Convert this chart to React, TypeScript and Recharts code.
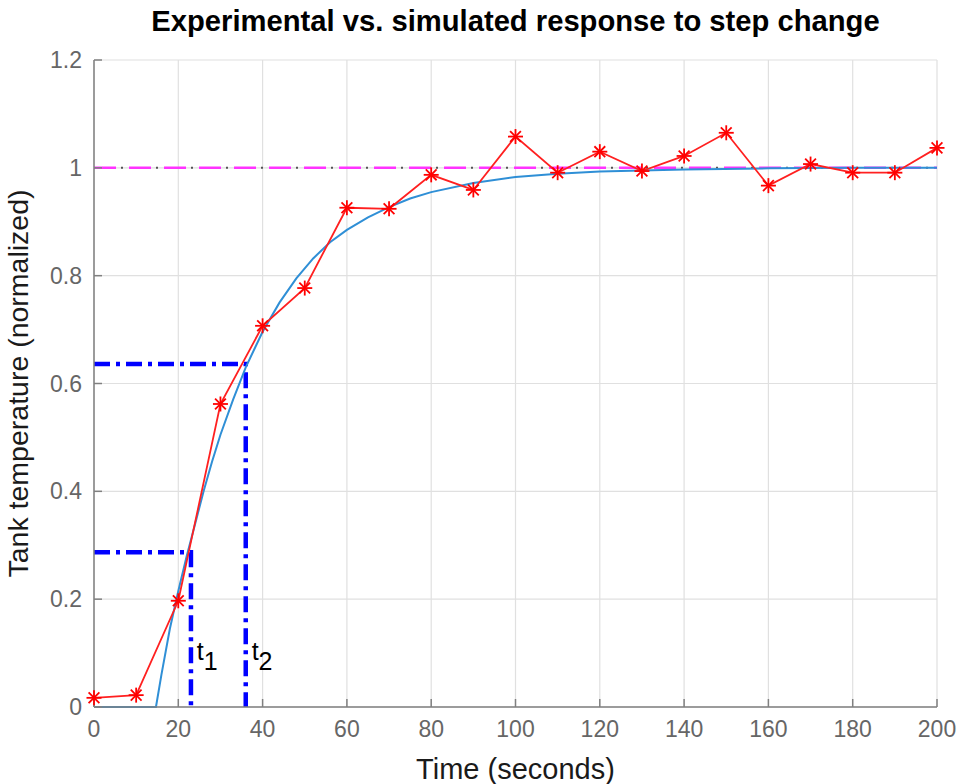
import {
  ComposedChart,
  Line,
  XAxis,
  YAxis,
  CartesianGrid,
  ReferenceLine,
  ReferenceDot,
} from 'recharts';

// experimental samples, every 10 s
const expTime = [0, 10, 20, 30, 40, 50, 60, 70, 80, 90, 100, 110, 120, 130, 140, 150, 160, 170, 180, 190, 200];
const expTemp = [0.017, 0.022, 0.197, 0.562, 0.707, 0.777, 0.926, 0.924, 0.987, 0.959, 1.058, 0.991, 1.03, 0.994, 1.022, 1.065, 0.967, 1.007, 0.991, 0.991, 1.037];

// simulated model response
const simTime = [0, 14.7, 16, 18, 20, 22, 24, 26, 28, 30, 33, 36, 40, 44, 48, 52, 56, 60, 65, 70, 75, 80, 90, 100, 110, 120, 140, 160, 180, 200];
const simTemp = [0, 0, 0.06, 0.145, 0.215, 0.28, 0.34, 0.4, 0.455, 0.505, 0.57, 0.63, 0.696, 0.75, 0.795, 0.832, 0.862, 0.885, 0.908, 0.927, 0.943, 0.955, 0.972, 0.983, 0.989, 0.993, 0.997, 0.999, 1.0, 1.0];

// two-point method markers
const t1 = 23;
const t2 = 36;
const y1 = 0.287;
const y2 = 0.636;

const xTicks = [0, 20, 40, 60, 80, 100, 120, 140, 160, 180, 200];
const yTicks = [0, 0.2, 0.4, 0.6, 0.8, 1, 1.2];

const expData = expTime.map((t, i) => ({ t, v: expTemp[i] }));
const simData = simTime.map((t, i) => ({ t, v: simTemp[i] }));
const t1Data = [{ t: 0, v: y1 }, { t: t1, v: y1 }, { t: t1, v: 0 }];
const t2Data = [{ t: 0, v: y2 }, { t: t2, v: y2 }, { t: t2, v: 0 }];

const font = 'Arial, "Liberation Sans", Helvetica, sans-serif';

function Star(props: any) {
  const { cx, cy } = props;
  if (cx == null || cy == null) return null;
  const r = 7.5;
  const d = r * 0.72;
  return (
    <g stroke="#ff0000" strokeWidth={1.8}>
      <line x1={cx - r} y1={cy} x2={cx + r} y2={cy} />
      <line x1={cx} y1={cy - r} x2={cx} y2={cy + r} />
      <line x1={cx - d} y1={cy - d} x2={cx + d} y2={cy + d} />
      <line x1={cx - d} y1={cy + d} x2={cx + d} y2={cy - d} />
    </g>
  );
}

function SubLabel(name: string, sub: string) {
  return (props: any) => (
    <text x={props.cx} y={props.cy} fontFamily={font} fontSize={25} fill="#000">
      {name}
      <tspan dy={10}>{sub}</tspan>
    </text>
  );
}

export default function App() {
  return (
    <div style={{ position: 'absolute', left: 0, top: 0, width: 962, height: 784, background: '#fff', fontFamily: font }}>
      <div
        style={{
          position: 'absolute',
          left: 94,
          width: 843,
          top: 5,
          textAlign: 'center',
          fontWeight: 'bold',
          fontSize: 29.2,
          color: '#000',
          whiteSpace: 'nowrap',
        }}
      >
        Experimental vs. simulated response to step change
      </div>
      <ComposedChart
        width={962}
        height={784}
        margin={{ top: 60, right: 25, bottom: 47, left: 34 }}
      >
        <CartesianGrid stroke="#e0e0e0" strokeWidth={1.2} />
        <XAxis
          dataKey="t"
          type="number"
          domain={[0, 200]}
          ticks={xTicks}
          allowDuplicatedCategory={false}
          height={30}
          stroke="#808080"
          strokeWidth={1.5}
          tickSize={-8}
          tickMargin={22}
          tick={{ fontSize: 23, fill: '#666', fontFamily: font }}
          label={{ value: 'Time (seconds)', position: 'insideBottom', offset: -42, fontSize: 29, fill: '#1a1a1a', fontFamily: font }}
        />
        <YAxis
          type="number"
          domain={[0, 1.2]}
          ticks={yTicks}
          width={60}
          stroke="#808080"
          strokeWidth={1.5}
          tickSize={-8}
          tickMargin={20}
          tick={{ fontSize: 23, fill: '#666', fontFamily: font }}
          label={{ value: 'Tank temperature (normalized)', angle: -90, position: 'insideLeft', offset: -16, fontSize: 28.5, fill: '#1a1a1a', fontFamily: font, style: { textAnchor: 'middle' } }}
        />
        <XAxis xAxisId="top" orientation="top" type="number" domain={[0, 200]} ticks={xTicks} height={0} stroke="#808080" strokeWidth={1.5} tickSize={-8} tick={false} />
        <YAxis yAxisId="right" orientation="right" type="number" domain={[0, 1.2]} ticks={yTicks} width={0} stroke="#808080" strokeWidth={1.5} tickSize={-8} tick={false} />
        <ReferenceLine y={1} stroke="#ff33ff" strokeWidth={2.5} strokeDasharray="22 13" />
        <ReferenceLine y={1} stroke="#555" strokeWidth={2} strokeDasharray="2 33" strokeDashoffset={8} />
        <Line data={t1Data} dataKey="v" stroke="#0000ff" strokeWidth={4.5} strokeDasharray="16 6 4 6" dot={false} isAnimationActive={false} />
        <Line data={t2Data} dataKey="v" stroke="#0000ff" strokeWidth={4.5} strokeDasharray="16 6 4 6" dot={false} isAnimationActive={false} />
        <Line data={simData} dataKey="v" stroke="#2f8fd6" strokeWidth={2} type="linear" dot={false} isAnimationActive={false} />
        <Line data={expData} dataKey="v" stroke="#ff2020" strokeWidth={1.8} dot={<Star />} isAnimationActive={false} />
        <ReferenceDot x={t1 + 1.4} y={0.088} r={0} shape={SubLabel('t', '1')} />
        <ReferenceDot x={t2 + 1.4} y={0.088} r={0} shape={SubLabel('t', '2')} />
      </ComposedChart>
    </div>
  );
}
